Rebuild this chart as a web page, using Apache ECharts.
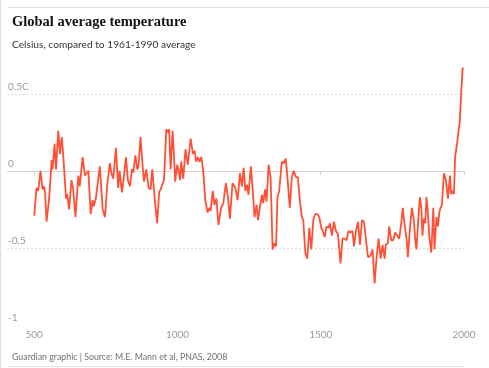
<!DOCTYPE html>
<html>
<head>
<meta charset="utf-8">
<script src="https://cdn.jsdelivr.net/npm/echarts@6/dist/echarts.min.js"></script>
<style>
html,body{margin:0;padding:0;background:#fff;}
#chart{width:489px;height:368px;}
</style>
</head>
<body>
<div id="chart"></div>
<script>
// Data (year, anomaly °C vs 1961-1990)
var years = [500,508,514,522,529,534,538,543,552,561,564,571,576,584,590,596,601,611,615,622,630,636,644,654,659,669,677,683,689,697,704,708,715,729,739,747,755,764,770,776,785,793,
798,806,813,820,827,834,841,846,853,860,864,871,876,883,891,899,906,912,920,925,929,936,941,946,953,961,967,971,976,983,988,992,999,1005,1009,1013,1020,1028,1036,1046,1054,1060,1065,1071,1077,1083,1090,1097,
1105,1111,1116,1123,1129,1136,1143,1152,1160,1169,1176,1183,1192,1202,1210,1218,1225,1231,1237,1243,1248,1256,1262,1269,1276,1281,1288,1295,1299,1306,1311,1318,1325,1332,1338,1344,1349,1355,1364,1371,1378,1385,1392,1399,1406,1413,
1420,1427,1434,1439,1446,1453,1460,1467,1474,1481,1488,1495,1502,1509,1514,1520,1527,1532,1539,1546,1553,1560,1569,1576,1583,1590,1597,1604,1611,1616,1623,1630,1637,1644,1651,1658,1665,1674,1681,1688,1695,1702,1709,1716,
1723,1727,1734,1739,1746,1753,1760,1767,1774,1781,1786,1790,1795,1800,1804,1811,1818,1825,1830,1834,1841,1846,1851,1855,1860,1865,1869,1874,1879,1886,1893,1897,1904,1909,1914,1918,1923,1930,1937,1944,1951,1955,1960,1965,1969,1976,1981,1985,1990,1995,1997];
var temps = [-0.29,-0.11,-0.13,0.00,-0.12,-0.10,-0.14,-0.33,-0.18,0.07,0.01,0.175,0.01,0.26,0.11,0.22,0.11,-0.18,-0.15,-0.25,-0.06,-0.12,-0.30,-0.03,-0.10,0.09,-0.03,-0.04,0.00,-0.28,-0.19,-0.23,-0.18,0.03,-0.25,-0.30,-0.09,0.05,-0.02,-0.05,0.15,-0.11,
0.00,-0.14,-0.04,0.09,-0.06,-0.10,0.01,-0.01,0.10,0.01,0.03,0.22,0.09,-0.07,0.01,-0.11,-0.12,0.01,-0.17,-0.16,-0.34,-0.14,-0.12,-0.13,-0.06,0.27,0.25,0.27,0.01,0.26,0.09,-0.07,0.04,-0.01,-0.06,0.06,-0.05,0.14,0.04,0.21,0.11,0.13,0.06,0.09,0.06,0.09,0.00,-0.19,
-0.27,-0.24,-0.26,-0.13,-0.22,-0.18,-0.35,-0.24,-0.21,-0.08,-0.17,-0.31,-0.08,-0.11,-0.19,-0.015,-0.10,0.02,-0.13,-0.09,-0.155,0.03,-0.11,-0.30,-0.22,-0.32,-0.23,-0.155,-0.21,-0.12,-0.20,0.04,-0.04,-0.51,-0.47,-0.49,-0.17,-0.13,0.06,0.05,0.08,-0.07,-0.24,-0.04,0.00,-0.04,
-0.04,-0.19,-0.30,-0.32,-0.53,-0.57,-0.37,-0.51,-0.32,-0.28,-0.28,-0.30,-0.37,-0.40,-0.43,-0.36,-0.37,-0.34,-0.42,-0.33,-0.39,-0.41,-0.60,-0.44,-0.44,-0.45,-0.39,-0.40,-0.39,-0.49,-0.39,-0.33,-0.48,-0.32,-0.33,-0.45,-0.56,-0.55,-0.51,-0.73,-0.56,-0.44,-0.57,-0.48,
-0.57,-0.48,-0.47,-0.36,-0.45,-0.45,-0.40,-0.42,-0.44,-0.34,-0.24,-0.31,-0.32,-0.45,-0.56,-0.38,-0.24,-0.32,-0.45,-0.51,-0.30,-0.17,-0.24,-0.42,-0.31,-0.34,-0.17,-0.27,-0.43,-0.53,-0.24,-0.51,-0.30,-0.36,-0.27,-0.24,-0.22,-0.015,-0.06,-0.18,-0.03,-0.15,-0.13,-0.15,0.09,0.18,0.26,0.31,0.50,0.66,0.67];

var xTicks = [500,1000,1500,2000];
var yTicks = [-1,-0.5,0,0.5];
var dottedLines = [-0.5,0.5];
var solidLines = [0];

var title = 'Global average temperature';
var subtitle = 'Celsius, compared to 1961-1990 average';
var source = 'Guardian graphic | Source: M.E. Mann et al, PNAS, 2008';

var chart = echarts.init(document.getElementById('chart'), null, {renderer:'canvas'});
var seriesData = years.map(function(y,i){return [y,temps[i]];});

var gridMarks = dottedLines.map(function(v){
  return {yAxis:v, lineStyle:{type:[2,2],color:'#dedede',width:1}};
}).concat(solidLines.map(function(v){
  return {yAxis:v, lineStyle:{type:'solid',color:'#d6d6d6',width:1}};
}));

chart.setOption({
  animation:false,
  title:[
    {text:title,left:7,top:10,textStyle:{fontFamily:'Liberation Serif',fontWeight:'bold',fontSize:14.5,color:'#121212'}},
    {text:subtitle,left:7,top:35,textStyle:{fontFamily:'Lato',fontWeight:'normal',fontSize:10.2,color:'#333'}},
    {text:source,left:7,top:348,textStyle:{fontFamily:'Lato',fontWeight:'normal',fontSize:8.8,color:'#707070'}}
  ],
  graphic:[
    {type:'rect',shape:{x:7,y:7,width:482,height:1},style:{fill:'#e3e3e3'},silent:true},
    {type:'rect',shape:{x:0,y:0,width:1,height:368},style:{fill:'#e0e0e0'},silent:true},
    {type:'rect',shape:{x:7,y:366,width:457,height:1},style:{fill:'#e3e3e3'},silent:true}
  ],
  grid:{left:7,right:25,top:63,bottom:43,containLabel:false},
  xAxis:{
    type:'value',min:405,max:2000,
    axisLine:{show:true,lineStyle:{type:[2,2],color:'#dedede'}},
    axisTick:{show:true,customValues:xTicks,length:4,lineStyle:{color:'#cfcfcf'}},
    axisLabel:{customValues:xTicks,color:'#999',fontFamily:'Lato',fontSize:10,margin:5,showMinLabel:true,showMaxLabel:true,
      formatter:function(v){return String(v);}},
    splitLine:{show:false}
  },
  yAxis:{
    type:'value',min:-1,max:0.7,
    axisLine:{show:false},axisTick:{show:false},splitLine:{show:false},
    axisLabel:{customValues:yTicks,inside:true,margin:1,verticalAlign:'bottom',color:'#999',fontFamily:'Lato',fontSize:10,padding:[0,0,2,0],
      formatter:function(v){return v===0.5?'0.5C':String(v);}}
  },
  series:[{
    type:'line',data:seriesData,showSymbol:false,
    lineStyle:{color:'#ff5036',width:1.8},
    z:3,
    markLine:{silent:true,symbol:'none',label:{show:false},data:gridMarks,z:1}
  }]
});
</script>
</body>
</html>
